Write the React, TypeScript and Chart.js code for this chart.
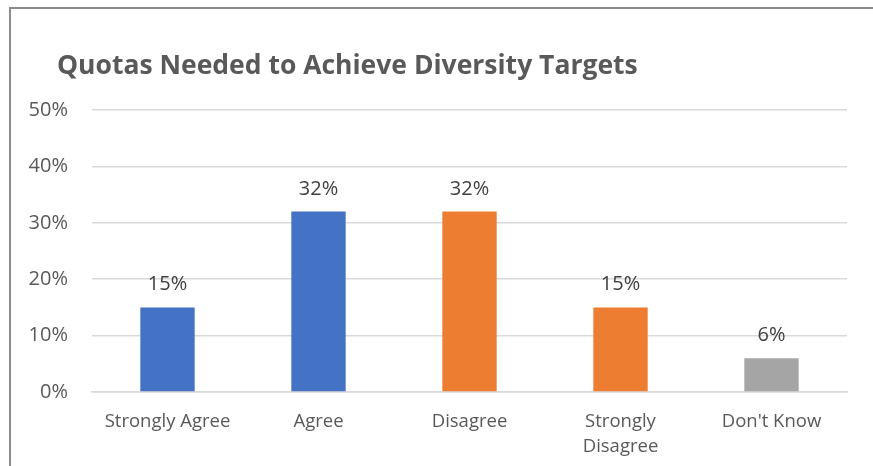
import React, { useEffect, useRef } from "react";
import { Chart, registerables } from "chart.js";

Chart.register(...registerables);

const titleText = "Quotas Needed to Achieve Diversity Targets";
const categories: (string | string[])[] = [
  "Strongly Agree",
  "Agree",
  "Disagree",
  ["Strongly", "Disagree"],
  "Don't Know",
];
const values = [15, 32, 32, 15, 6];
const barColors = ["#4472C4", "#4472C4", "#ED7D31", "#ED7D31", "#A5A5A5"];
const tickValues = [0, 10, 20, 30, 40, 50];

const FONT = "'Open Sans', 'Noto Sans', sans-serif";

const titlePlugin = {
  id: "customTitle",
  afterDraw(chart: any) {
    const ctx = chart.ctx;
    ctx.save();
    ctx.font = `bold 26.5px ${FONT}`;
    ctx.fillStyle = "#595959";
    ctx.textAlign = "left";
    ctx.textBaseline = "alphabetic";
    ctx.fillText(titleText, 57, 74);
    ctx.restore();
  },
};

const dataLabelPlugin = {
  id: "dataLabels",
  afterDatasetsDraw(chart: any) {
    const ctx = chart.ctx;
    const meta = chart.getDatasetMeta(0);
    ctx.save();
    ctx.font = `20px ${FONT}`;
    ctx.fillStyle = "#404040";
    ctx.textAlign = "center";
    ctx.textBaseline = "alphabetic";
    meta.data.forEach((bar: any, i: number) => {
      ctx.fillText(`${values[i]}%`, bar.x, bar.y - 17);
    });
    ctx.restore();
  },
};

export default function App() {
  const ref = useRef<HTMLCanvasElement>(null);
  useEffect(() => {
    if (!ref.current) return;
    const chart = new Chart(ref.current, {
      type: "bar",
      data: {
        labels: categories,
        datasets: [
          {
            data: values,
            backgroundColor: barColors,
            categoryPercentage: 1,
            barPercentage: 0.36,
          },
        ],
      },
      options: {
        animation: false,
        responsive: false,
        maintainAspectRatio: false,
        layout: { padding: { left: 0, right: 26, top: 110, bottom: 0 } },
        plugins: {
          legend: { display: false },
          title: { display: false },
          tooltip: { enabled: false },
        },
        scales: {
          x: {
            grid: { display: false, drawTicks: false },
            border: { display: true, color: "#d9d9d9", width: 1.5 },
            ticks: {
              color: "#595959",
              font: { family: FONT, size: 18.5, lineHeight: 1.35 },
              padding: 17,
              maxRotation: 0,
              autoSkip: false,
            },
            afterFit(scale: any) {
              scale.height = 74;
            },
          },
          y: {
            min: 0,
            max: 50,
            afterBuildTicks(scale: any) {
              scale.ticks = tickValues.map((v) => ({ value: v }));
            },
            grid: { color: "#d9d9d9", lineWidth: 1.5, drawTicks: false },
            border: { display: false },
            ticks: {
              color: "#595959",
              font: { family: FONT, size: 20 },
              padding: 24,
              callback: (v: any) => `${v}%`,
            },
            afterFit(scale: any) {
              scale.width = 92;
            },
          },
        },
      },
      plugins: [titlePlugin, dataLabelPlugin],
    });
    return () => chart.destroy();
  }, []);

  return (
    <div
      style={{
        position: "absolute",
        left: 0,
        top: 0,
        width: 873,
        height: 466,
        overflow: "hidden",
        background: "#fff",
      }}
    >
      <div
        style={{
          position: "absolute",
          left: 9,
          top: 7,
          width: 900,
          height: 500,
          borderLeft: "2px solid #8c8c8c",
          borderTop: "2px solid #8c8c8c",
        }}
      />
      <canvas
        ref={ref}
        width={873}
        height={466}
        style={{ position: "absolute", left: 0, top: 0 }}
      />
    </div>
  );
}
